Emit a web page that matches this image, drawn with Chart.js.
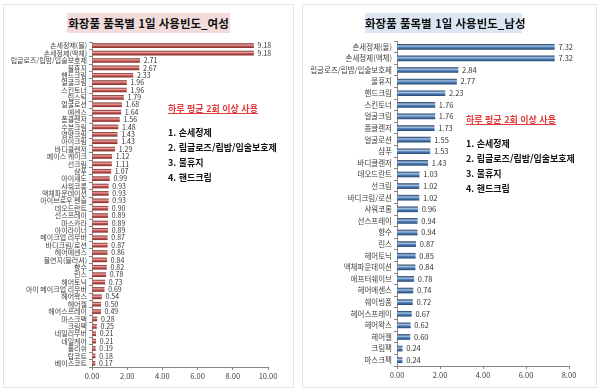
<!DOCTYPE html>
<html lang="ko">
<head>
  <meta charset="UTF-8" />
  <title>화장품 품목별 1일 사용빈도</title>
  <script src="https://cdn.jsdelivr.net/npm/chart.js"></script>
  <style>
    body { margin:0; background:#fff; font-family:"Noto Sans CJK KR", sans-serif; }
    .wrap { position:relative; width:600px; height:392px; overflow:hidden; }
    .panel { position:absolute; top:4px; height:384px; border:1px solid #e4e4e4; box-sizing:border-box; }
    canvas { position:absolute; top:0; }
    .title { position:absolute; top:13px; height:20px; line-height:20px; text-align:center;
             font-weight:bold; font-size:11.5px; color:#111; white-space:nowrap; }
    .note { position:absolute; font-weight:bold; font-size:9px; color:#111; white-space:nowrap; line-height:15px; }
    .note .head { color:#e03a3a; text-decoration:underline; margin-bottom:9px; }
  </style>
</head>
<body>
<div class="wrap">
  <div class="panel" style="left:3px;width:291px"></div>
  <div class="panel" style="left:302px;width:295px"></div>
  <canvas id="female" width="300" height="392" style="left:0"></canvas>
  <canvas id="male" width="300" height="392" style="left:300px"></canvas>
  <div class="title" style="left:67px;width:163px;background:#f2dcdb">화장품 품목별 1일 사용빈도_여성</div>
  <div class="title" style="left:365px;width:157px;background:#dce6f2">화장품 품목별 1일 사용빈도_남성</div>
  <div class="note" style="left:168px;top:101px">
    <div class="head">하루 평균 2회 이상 사용</div>
    <div>1. 손세정제</div><div>2. 립글로즈/립밤/입술보호제</div><div>3. 물휴지</div><div>4. 핸드크림</div>
  </div>
  <div class="note" style="left:466px;top:112px">
    <div class="head">하루 평균 2회 이상 사용</div>
    <div>1. 손세정제</div><div>2. 립글로즈/립밤/입술보호제</div><div>3. 물휴지</div><div>4. 핸드크림</div>
  </div>
</div>

<script>
  const femaleLabels = ['손세정제(물)','손세정제(액체)','립글로즈/립밤/입술보호제','물휴지','핸드크림','얼굴크림','스킨토너',
    '립스틱','얼굴로션','에센스','폼클렌저','수분크림','영양크림','아이크림','바디클렌저','페이스 케이크','선크림','샴푸',
    '아이섀도','샤워코롱','액체파운데이션','아이브로우 펜슬','데오드란트','선스프레이','마스카라','아이라이너',
    '메이크업 리무버','바디크림/로션','헤어에센스','볼연지(블러셔)','향수','린스','헤어토닉','아이 메이크업 리무버',
    '헤어왁스','헤어젤','헤어스프레이','마스크팩','크림팩','네일리무버','네일케어','폴리쉬','탑코트','베이스코트'];
  const femaleValues = [9.18,9.18,2.71,2.67,2.33,1.96,1.96,1.79,1.68,1.64,1.56,1.48,1.43,1.43,1.29,1.12,1.11,1.07,
    0.99,0.93,0.93,0.93,0.90,0.89,0.89,0.89,0.87,0.87,0.86,0.84,0.82,0.78,0.73,0.69,0.54,0.50,0.49,0.28,0.25,
    0.21,0.21,0.19,0.18,0.17];

  const maleLabels = ['손세정제(물)','손세정제(액체)','립글로즈/립밤/입술보호제','물휴지','핸드크림','스킨토너','얼굴크림',
    '폼클렌저','얼굴로션','샴푸','바디클렌저','데오드란트','선크림','바디크림/로션','샤워코롱','선스프레이','향수','린스',
    '헤어토닉','액체파운데이션','애프터쉐이브','헤어에센스','쉐이빙폼','헤어스프레이','헤어왁스','헤어젤','크림팩','마스크팩'];
  const maleValues = [7.32,7.32,2.84,2.77,2.23,1.76,1.76,1.73,1.55,1.53,1.43,1.03,1.02,1.02,0.96,0.94,0.94,0.87,
    0.85,0.84,0.78,0.74,0.72,0.67,0.62,0.60,0.24,0.24];

  const femaleTicks = [0, 2, 4, 6, 8, 10];
  const maleTicks = [0, 2, 4, 6, 8];

  const FONT = '"Noto Sans CJK KR", sans-serif';

  // value label at the end of each bar
  const valueLabels = {
    id: 'valueLabels',
    afterDatasetsDraw(chart, args, opts) {
      const ctx = chart.ctx;
      const meta = chart.getDatasetMeta(0);
      const vals = chart.data.datasets[0].data;
      ctx.save();
      ctx.font = opts.size + 'px ' + FONT;
      ctx.fillStyle = '#333';
      ctx.textBaseline = 'middle';
      meta.data.forEach((bar, i) => ctx.fillText(vals[i].toFixed(2), bar.x + 4, bar.y));
      ctx.restore();
    }
  };

  function makeChart(id, labels, values, ticks, c, pad, axisW, thick, labelSize) {
    const shade = ctx => {
      const chart = ctx.chart;
      const ys = chart.scales.y;
      const y = ys ? ys.getPixelForValue(ctx.dataIndex) : NaN;
      if (!isFinite(y)) return c[1];
      const g = chart.ctx.createLinearGradient(0, y - thick / 2, 0, y + thick / 2);
      g.addColorStop(0, c[0]);
      g.addColorStop(0.35, c[2]);
      g.addColorStop(0.6, c[1]);
      g.addColorStop(1, c[0]);
      return g;
    };
    return new Chart(document.getElementById(id), {
      type: 'bar',
      data: { labels, datasets: [{ data: values, backgroundColor: shade, barThickness: thick, borderWidth: 0 }] },
      options: {
        indexAxis: 'y',
        responsive: false,
        animation: false,
        layout: { padding: pad },
        plugins: { legend: { display: false }, tooltip: { enabled: false }, valueLabels: { size: labelSize } },
        scales: {
          x: {
            min: 0, max: ticks[ticks.length - 1],
            afterBuildTicks: s => { s.ticks = ticks.map(v => ({ value: v })); },
            afterFit: s => { s.height = 17; },
            grid: { drawOnChartArea: false, tickLength: 3, color: '#868686' },
            border: { color: '#868686' },
            ticks: { padding: 2, color: '#404040', font: { family: FONT, size: 7.5 }, callback: v => v.toFixed(2) }
          },
          y: {
            afterFit: s => { s.width = axisW; },
            grid: { drawOnChartArea: false, offset: true, tickLength: 3, color: '#868686' },
            border: { color: '#868686' },
            ticks: { padding: 2, autoSkip: false, color: '#404040', font: { family: FONT, size: labelSize } }
          }
        }
      },
      plugins: [valueLabels]
    });
  }

  makeChart('female', femaleLabels, femaleValues, femaleTicks, ['#8c3836', '#c0504d', '#e8a9a7'],
    { top: 42, right: 32, bottom: 8, left: 0 }, 92, 4, 7);
  makeChart('male', maleLabels, maleValues, maleTicks, ['#2c4d75', '#4f81bd', '#a9c2e0'],
    { top: 41, right: 31, bottom: 9, left: 0 }, 97, 5, 7.5);
</script>
</body>
</html>
